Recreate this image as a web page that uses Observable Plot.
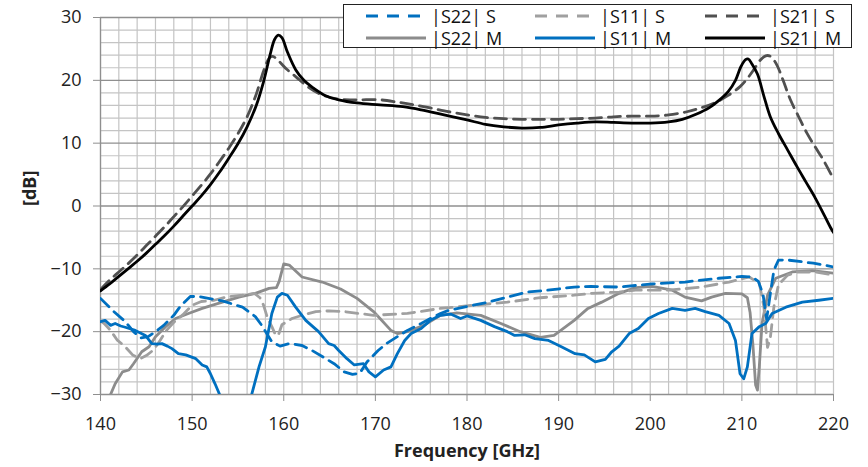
<!DOCTYPE html>
<html>
<head>
<meta charset="utf-8">
<script src="https://cdn.jsdelivr.net/npm/d3@7"></script>
<script src="https://cdn.jsdelivr.net/npm/@observablehq/plot@0.6"></script>
<style>
  body { margin: 0; background: #fff; }
  #wrap { position: relative; width: 868px; height: 467px; font-family: "Open Sans", sans-serif; }
  #legend { position: absolute; left: 343px; top: 4px; width: 507px; height: 42px; border: 1.5px solid #222; background: #fff; }
  .item { position: absolute; display: flex; align-items: center; height: 22px; font-size: 18px; color: #111; white-space: pre; }
  .item svg { margin-right: 5px; }
</style>
</head>
<body>
<div id="wrap"></div>
<script>
// ---- tick labels / axes ----
const xTicks = [140, 150, 160, 170, 180, 190, 200, 210, 220];
const yTicks = [-30, -20, -10, 0, 10, 20, 30];
const xLabel = "Frequency [GHz]";
const yLabel = "[dB]";

// ---- series (frequency GHz, dB) ----
const s22S = [[140,-14.7],[141.3,-16.6],[142.7,-18.4],[143.6,-20],[144.4,-21],[145.2,-20.8],[146,-20],[146.9,-19],[148,-17.4],[148.7,-16],[149.8,-14.4],[150.7,-14.4],[153.3,-15.1],[155.5,-16.1],[156.9,-17.6],[157.6,-19],[158.7,-21.6],[159.6,-22.3],[160.6,-21.9],[162,-22.2],[163.1,-23],[164.6,-24.3],[165.5,-25.1],[166.6,-26.4],[167.5,-26.8],[168.3,-26.6],[169.1,-24.8],[170.3,-23],[171.2,-21.9],[172.6,-20.6],[173.5,-19.8],[175,-18.7],[176,-17.9],[177.1,-17.1],[178,-16.6],[180,-16],[182,-15.4],[184.4,-14.5],[186.6,-13.7],[188.8,-13.4],[191.7,-12.9],[193.5,-12.8],[196.6,-12.9],[200.2,-12.4],[203.8,-12.1],[207.5,-11.5],[210,-11.2],[211.1,-11.3],[211.8,-12],[212.3,-14],[212.7,-18],[213.1,-14],[213.5,-10.2],[214,-8.6],[215,-8.6],[217.8,-9.1],[220,-9.7]];

const s22M = [[140.8,-31],[141.6,-28.3],[142.4,-26.4],[143.1,-26.1],[143.6,-25.1],[144.5,-23.2],[145.3,-22.4],[146,-20.8],[147.1,-19.2],[148.2,-17.9],[149.6,-17.1],[151.1,-16.3],[153.3,-15.3],[155.1,-14.5],[156.9,-13.9],[158.4,-13.1],[159.2,-13.0],[159.5,-12.0],[160,-9.2],[160.6,-9.4],[162,-11.3],[164.2,-12.1],[166.2,-13.2],[168,-14.7],[169.8,-16.8],[171.7,-19.8],[172.4,-20.3],[173.5,-20],[175.3,-19],[177.1,-17.4],[178.9,-17],[181.5,-17.4],[183.7,-18.7],[185.8,-20],[188,-20.9],[189.5,-20.6],[191.7,-18.2],[193.2,-16.3],[194.7,-15.3],[196.6,-13.9],[198.4,-13],[200.2,-12.8],[202.4,-13.4],[203.8,-14.5],[205.6,-15.1],[206.7,-14.5],[208.2,-13.9],[210,-14.0],[210.6,-14.6],[210.9,-17],[211.2,-22],[211.5,-28.5],[211.7,-29.3],[211.9,-25.6],[212.2,-18.7],[212.8,-14.2],[213.7,-11.5],[215.5,-10.5],[217.7,-10.3],[220,-10.7]];

const s11S = [[140,-18.3],[140.4,-18.7],[141.1,-19.8],[141.8,-21.3],[142.7,-22.4],[143.5,-23.7],[144.3,-24.3],[145,-23.8],[145.8,-22.9],[146.5,-21.4],[147.2,-19.8],[148,-18.5],[149,-17.3],[150,-15.8],[151,-15.2],[152.4,-15],[154,-14.4],[155.5,-14.2],[156.8,-13.9],[157.4,-14.6],[157.8,-15.8],[158.2,-17.7],[158.7,-19.2],[159.1,-20.5],[159.4,-20.6],[159.8,-18.9],[160.9,-17.9],[162,-17.4],[163.5,-16.8],[164.9,-16.7],[166.6,-16.8],[169.8,-17.4],[173.5,-17.1],[177.1,-16.3],[180.7,-15.8],[184.4,-15.3],[188,-14.6],[191.7,-14.2],[193.5,-13.9],[196.6,-13.7],[198.4,-13.4],[202,-13.4],[205.6,-12.9],[208.6,-12.1],[210.8,-11.3],[211.9,-12.3],[212.4,-16],[212.8,-22.5],[213.1,-21],[213.5,-16],[214,-12.5],[215,-11],[216,-10.5],[218,-10.5],[220,-11]];

const s11M = [[140,-18.4],[140.5,-18.2],[141.1,-19],[141.6,-18.7],[142.2,-19.1],[142.7,-19.3],[143.8,-19.8],[144.9,-20.6],[145.6,-21.9],[146.2,-22],[146.7,-21.9],[147.3,-22.3],[147.8,-22.7],[148.5,-23.5],[149.3,-23.7],[150.4,-24.3],[151.1,-25.3],[151.6,-25.6],[152,-26.7],[152.5,-28.3],[153,-30],[153.5,-33],[155.8,-33],[156.5,-30],[157.3,-25.6],[158,-22.4],[158.7,-17.1],[159.3,-14.5],[159.8,-13.9],[160.4,-14.2],[161.3,-16.1],[162.4,-18.2],[163.8,-20],[164.9,-21.9],[165.5,-22.2],[166,-23],[166.9,-24.3],[167.7,-25.3],[168.7,-25.1],[169.3,-26.4],[170,-27.2],[170.9,-26.1],[171.7,-25.6],[172.4,-23.5],[173.2,-21.4],[173.9,-20.3],[175,-19.5],[176,-18.2],[177.1,-17.4],[178.2,-17.2],[179.3,-17.9],[180,-17.5],[181.5,-18.2],[183,-19.2],[184.4,-20],[185.2,-20.6],[186.3,-20.5],[187.4,-21.1],[188.9,-21.4],[190.3,-22.4],[191.8,-23.5],[192.8,-23.7],[194,-24.8],[195.1,-24.4],[195.8,-23.2],[196.6,-22.3],[197.7,-20.3],[198.7,-19.5],[199.8,-17.9],[200.9,-17.1],[202.4,-16.3],[203.8,-16.6],[204.9,-16.3],[206,-16.8],[207.5,-17.4],[208.6,-18.7],[209.3,-21.4],[209.8,-26.7],[210.2,-27.5],[210.6,-25.6],[211.1,-20.3],[211.9,-19.2],[212.6,-18.7],[213.3,-17.1],[214.8,-16.1],[216.6,-15.3],[218.4,-15],[220,-14.7]];

const s21S = [[140,-13.3],[141,-11.8],[142,-10.5],[143,-9.2],[144,-7.8],[145,-6.3],[146,-4.8],[147,-3.3],[148,-1.7],[149,-0.1],[150,1.6],[151,3.3],[152,5.1],[153,7.1],[154,9.2],[155,11.5],[156,14.2],[157,17.8],[157.8,21.5],[158.4,23.5],[158.8,23.8],[159.5,23],[160.3,21.8],[161.3,20.6],[162.6,19],[164,17.8],[166,17],[168,16.9],[170.5,16.9],[172.5,16.5],[174.2,16.1],[176,15.6],[178,15],[180,14.5],[182,14.1],[184,13.9],[186,13.8],[188,13.8],[190,13.8],[192,13.9],[194,14.0],[196,14.2],[198,14.3],[200,14.3],[202,14.5],[204,15],[205.5,15.6],[207,16.4],[208.5,17.6],[209.8,19],[210.6,20.3],[211.3,21.7],[212,23.2],[212.6,23.9],[213,23.9],[213.5,23.2],[213.9,22.2],[214.5,20],[215.3,16.9],[216.2,14.2],[217.1,11.6],[218,9.4],[218.9,7.3],[220,4.3]];

const s21M = [[140,-13.5],[141,-12.4],[142,-11.2],[143,-10.0],[144,-8.8],[145,-7.5],[146,-6.1],[147,-4.7],[148,-3.2],[149,-1.6],[150,0],[151,1.6],[152,3.4],[153,5.4],[154,7.6],[155,9.9],[156,12.6],[157,16],[157.8,19.8],[158.5,24],[159,26.5],[159.4,27.2],[159.8,26.8],[160.4,24.5],[161.3,21.7],[162.2,20],[163.2,18.8],[164.5,17.6],[166,16.9],[168,16.4],[170.5,16.1],[173,15.8],[175,15.3],[177.5,14.5],[180,13.7],[182,13.0],[184,12.6],[186,12.4],[188,12.5],[190,12.9],[192,13.2],[194,13.4],[196,13.3],[198,13.2],[200,13.2],[202,13.4],[203.5,13.8],[205,14.6],[206.5,15.7],[207.5,16.8],[208.5,18.2],[209.3,20],[209.9,22.2],[210.4,23.3],[210.7,23.4],[211.1,22.6],[211.7,21],[212.4,17.5],[213.1,14.2],[214,11.5],[215,8.9],[216,6.3],[217,3.8],[218,1.3],[219,-1.5],[219.7,-3.5],[220,-4.2]];

const seriesNames = ["|S22| S", "|S11| S", "|S21| S", "|S22| M", "|S11| M", "|S21| M"];
const seriesColors = ["#0070C0", "#a0a0a0", "#505050", "#8c8c8c", "#0070C0", "#000000"];
const seriesDashed = [true, true, true, false, false, false];
const seriesData = [s22S, s11S, s21S, s22M, s11M, s21M];
const smooth = [false, false, true, false, false, true];

const dash = "12,7";
const minorX = d3.range(140, 221, 2);
const minorY = d3.range(-30, 31, 2).filter(v => v % 10 !== 0);

const lineMarks = [3, 1, 0, 4, 2, 5].map(i => Plot.line(seriesData[i], {
  x: d => d[0], y: d => d[1],
  stroke: seriesColors[i], strokeWidth: 2.8,
  strokeDasharray: seriesDashed[i] ? dash : null,
  curve: smooth[i] ? "catmull-rom" : "linear",
  clip: true
}));

const chart = Plot.plot({
  width: 868, height: 467,
  marginLeft: 100, marginRight: 35, marginTop: 17, marginBottom: 73,
  style: { fontFamily: "'Open Sans', sans-serif", fontSize: "18px", color: "#222", background: "#fff" },
  x: { domain: [140, 220], label: null },
  y: { domain: [-30, 30], label: null },
  marks: [
    Plot.gridX(minorX, { stroke: "#c4c4c4", strokeOpacity: 1, strokeWidth: 1.2 }),
    Plot.gridY(minorY, { stroke: "#c4c4c4", strokeOpacity: 1, strokeWidth: 1.2 }),
    Plot.gridY(yTicks, { stroke: "#8f8f8f", strokeOpacity: 1, strokeWidth: 1.3 }),
    Plot.ruleX([140], { stroke: "#8f8f8f", strokeWidth: 1.3 }),
    Plot.axisX(xTicks, { tickSize: 7, tickPadding: 16, stroke: "#8f8f8f", fontSize: 18, fill: "#222", label: null }),
    Plot.axisY(yTicks, { tickSize: 7, tickPadding: 12, stroke: "#8f8f8f", fontSize: 18, fill: "#222", label: null }),
    ...lineMarks,
    Plot.text([xLabel], { frameAnchor: "bottom", dy: 62, fontWeight: "bold", fontSize: 18, fill: "#222" }),
    Plot.text([yLabel], { frameAnchor: "left", dx: -70, rotate: -90, fontWeight: "bold", fontSize: 18, fill: "#222" })
  ]
});

const wrap = document.getElementById("wrap");
wrap.appendChild(chart);

// ---- legend (HTML overlay) ----
const legend = document.createElement("div");
legend.id = "legend";
const colX = [22, 191, 361];
const rowY = [0, 22];
seriesNames.forEach((name, i) => {
  const col = i % 3, row = Math.floor(i / 3);
  const item = document.createElement("div");
  item.className = "item";
  item.style.left = colX[col] + "px";
  item.style.top = rowY[row] + "px";
  const svg = `<svg width="60" height="8"><line x1="0" y1="4" x2="60" y2="4" stroke="${seriesColors[i]}" stroke-width="3"${seriesDashed[i] ? ' stroke-dasharray="12,9"' : ''}/></svg>`;
  item.innerHTML = svg + "<span>" + name + "</span>";
  legend.appendChild(item);
});
wrap.appendChild(legend);
</script>
</body>
</html>
